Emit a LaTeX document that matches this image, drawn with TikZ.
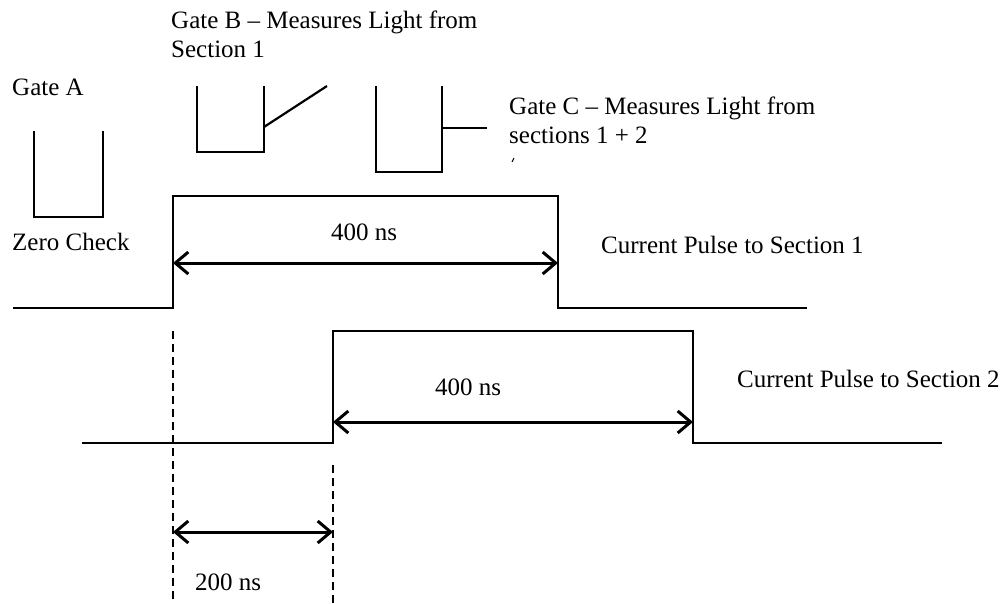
\documentclass[tikz,border=0pt]{standalone}
\usepackage{fontspec}
\setmainfont{Liberation Serif}
\usetikzlibrary{arrows.meta}
\begin{document}
\begin{tikzpicture}[x=1pt,y=-1pt,
  wire/.style={line width=2.2pt,line join=miter},
  dim/.style={line width=3pt,{Straight Barb[length=13pt,width=22pt,line width=3pt]}-{Straight Barb[length=13pt,width=22pt,line width=3pt]}},
  guide/.style={line width=2.8pt,dash pattern=on 8pt off 5pt},
  lbl/.style={anchor=base west,inner sep=0pt,font=\fontsize{25}{29}\selectfont}]
\useasboundingbox (0,0) rectangle (1002,603);
% texts
\node[lbl] (tB1) at (171,28) {Gate B -- Measures Light from};
\node[lbl] (tB2) at (171,57) {Section 1};
\node[lbl] (tA) at (12,95) {Gate A};
\node[lbl] (tZ) at (12,250) {Zero Check};
\node[lbl] (tC1) at (509,114) {Gate C -- Measures Light from};
\node[lbl] (tC2) at (509,143) {sections 1 + 2};
\node[lbl] (tP1) at (601,253) {Current Pulse to Section 1};
\node[lbl] (tP2) at (737,387) {Current Pulse to Section 2};
\node[lbl] (t400a) at (331,240) {400 ns};
\node[lbl] (t400b) at (435,395) {400 ns};
\node[lbl] (t200) at (195,590) {200 ns};
% gates
\draw[wire] (34,131) -- (34,217) -- (103,217) -- (103,131);
\draw[wire] (197,86) -- (197,152) -- (264,152) -- (264,86);
\coordinate (bfoot) at (264,127);
\coordinate (bend) at (327,86);
\draw[wire] (bfoot) -- (bend);
\draw[wire] (376,86) -- (376,172) -- (442,172) -- (442,86);
\coordinate (cfoot) at (442,128);
\coordinate (cend) at (487,128);
\draw[wire] (cfoot) -- (cend);
\draw[line width=1pt] (512,162) -- (514,158);
% pulse 1
\coordinate (p1a) at (173,308);
\coordinate (p1b) at (173,196);
\coordinate (p1c) at (558,196);
\coordinate (p1d) at (558,308);
\draw[wire] (13,308) -- (p1a) -- (p1b) -- (p1c) -- (p1d) -- (807,308);
% pulse 2
\coordinate (p2a) at (333,443);
\coordinate (p2b) at (333,331);
\coordinate (p2c) at (693,331);
\coordinate (p2d) at (693,443);
\draw[wire] (82,443) -- (p2a) -- (p2b) -- (p2c) -- (p2d) -- (942,443);
% guides
\coordinate (g1t) at (173,331);
\coordinate (g1b) at (173,603);
\coordinate (g2t) at (333,465);
\coordinate (g2b) at (333,603);
\draw[guide] (g1t) -- (g1b);
\draw[guide] (g2t) -- (g2b);
% dimension arrows
\coordinate (a1l) at (173,263);
\coordinate (a1r) at (558,263);
\draw[dim] (a1l) -- (a1r);
\coordinate (a2l) at (333,422);
\coordinate (a2r) at (693,422);
\draw[dim] (a2l) -- (a2r);
\coordinate (a3l) at (173,532);
\coordinate (a3r) at (333,532);
\draw[dim] (a3l) -- (a3r);
\end{tikzpicture}
\end{document}
